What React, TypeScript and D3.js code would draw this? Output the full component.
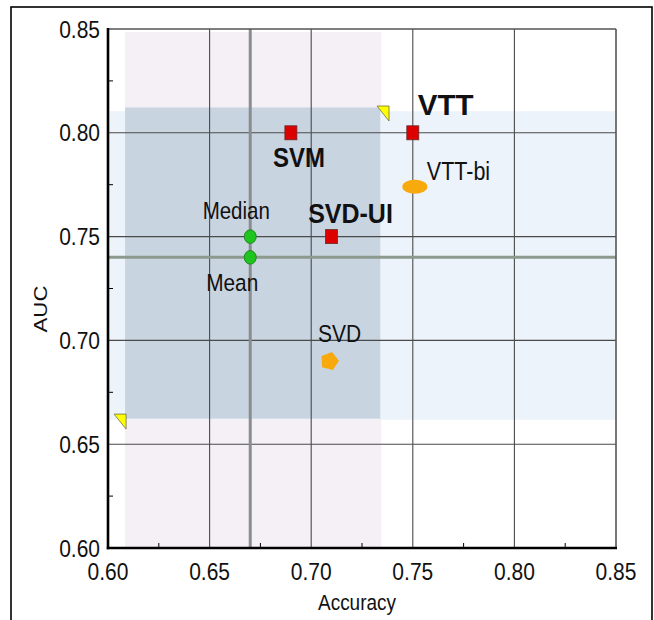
import React from "react";
import * as d3 from "d3";

// ---- data ----
const methods = ["SVM", "VTT", "SVD-UI", "Median", "Mean", "VTT-bi", "SVD"];
const accuracy = [0.69, 0.75, 0.71, 0.67, 0.67, 0.751, 0.709];
const auc = [0.8, 0.8, 0.75, 0.75, 0.74, 0.774, 0.69];
const markerKind = ["square", "square", "square", "circle", "circle", "ellipse", "pentagon"];

const xTicks = [0.6, 0.65, 0.7, 0.75, 0.8, 0.85];
const yTicks = [0.6, 0.65, 0.7, 0.75, 0.8, 0.85];
const xMinor = [0.625, 0.675, 0.725, 0.775, 0.825];
const yMinor = [0.625, 0.675, 0.725, 0.775, 0.825];

const refAccuracy = 0.67;
const refAUC = 0.74;

// shaded bands (accuracy range, auc range)
const accBand = [0.6084, 0.7345];
const accBandAuc = [0.6, 0.8485];
const aucBand = [0.6618, 0.8104];
const aucBandAcc = [0.6, 0.85];
const overlapAcc = [0.6084, 0.734];
const overlapAuc = [0.6623, 0.8122];

const triAcc = [0.6089, 0.7383];
const triAuc = [0.6645, 0.8129];

// ---- style / layout ----
const W = 654;
const H = 620;
const SY = 1.17;
const FONT = "'Liberation Sans', Arial, sans-serif";

const labelStyle: Record<string, { dx: number; dy: number; anchor: string; size: number; bold: boolean; sy: number }> = {
  SVM: { dx: 8, dy: 34, anchor: "middle", size: 24, bold: true, sy: 1.17 },
  VTT: { dx: 5, dy: -18, anchor: "start", size: 29.5, bold: true, sy: 1.0 },
  "SVD-UI": { dx: 19, dy: -14, anchor: "middle", size: 25, bold: true, sy: 1.13 },
  Median: { dx: -14, dy: -18, anchor: "middle", size: 20.5, bold: false, sy: 1.17 },
  Mean: { dx: -18, dy: 34, anchor: "middle", size: 20.8, bold: false, sy: 1.17 },
  "VTT-bi": { dx: 12, dy: -7, anchor: "start", size: 21.5, bold: false, sy: 1.2 },
  SVD: { dx: 10, dy: -19, anchor: "middle", size: 21, bold: false, sy: 1.17 },
};

export default function App() {
  const x = d3.scaleLinear().domain([0.6, 0.85]).range([108, 616]);
  const y = d3.scaleLinear().domain([0.6, 0.85]).range([548, 29]);

  const pentagon = (cx: number, cy: number, r: number) => {
    const pts = d3.range(5).map((i) => {
      const a = (-90 + 15 + i * 72) * (Math.PI / 180);
      return [cx + r * Math.cos(a), cy + r * Math.sin(a)].join(",");
    });
    return pts.join(" ");
  };

  const marker = (i: number) => {
    const cx = x(accuracy[i]);
    const cy = y(auc[i]);
    const k = markerKind[i];
    if (k === "square")
      return <rect key={"m" + i} x={cx - 6} y={cy - 7} width={12} height={14} fill="#dd0000" stroke="#6a2a2a" strokeWidth={0.8} />;
    if (k === "circle")
      return <ellipse key={"m" + i} cx={cx} cy={cy} rx={6} ry={6.8} fill="#1fc41f" stroke="#157a15" strokeWidth={0.8} />;
    if (k === "ellipse")
      return <ellipse key={"m" + i} cx={cx} cy={cy} rx={12.5} ry={7} fill="#f7a90d" />;
    return <polygon key={"m" + i} points={pentagon(cx, cy, 9.5)} fill="#f7a90d" />;
  };

  const label = (i: number) => {
    const s = labelStyle[methods[i]];
    const tx = x(accuracy[i]) + s.dx;
    const ty = y(auc[i]) + s.dy;
    return (
      <text
        key={"l" + i}
        transform={`translate(${tx},${ty}) scale(1,${s.sy})`}
        textAnchor={s.anchor}
        fontSize={s.size}
        fontWeight={s.bold ? "bold" : "normal"}
        fill="#111"
      >
        {methods[i]}
      </text>
    );
  };

  const tri = (i: number) => {
    const px = x(triAcc[i]);
    const py = y(triAuc[i]);
    return (
      <polygon
        key={"t" + i}
        points={`${px - 12},${py} ${px},${py} ${px},${py + 15}`}
        fill="#ffff00"
        stroke="#6f6f40"
        strokeWidth={0.8}
      />
    );
  };

  return (
    <div style={{ position: "absolute", left: 0, top: 0, width: W, height: H, background: "#fff" }}>
      <svg width={W} height={H} style={{ display: "block", fontFamily: FONT }}>
        <rect x={0} y={0} width={W} height={H} fill="#fff" />
        {/* frame */}
        <rect x={11} y={7} width={641} height={630} fill="none" stroke="#000" strokeWidth={1.6} />

        {/* shaded bands */}
        <rect x={x(accBand[0])} y={y(accBandAuc[1])} width={x(accBand[1]) - x(accBand[0])} height={y(accBandAuc[0]) - y(accBandAuc[1])} fill="#f4f0f6" />
        <rect x={x(aucBandAcc[0])} y={y(aucBand[1])} width={x(aucBandAcc[1]) - x(aucBandAcc[0])} height={y(aucBand[0]) - y(aucBand[1])} fill="#ecf3fa" />
        <rect x={x(overlapAcc[0])} y={y(overlapAuc[1])} width={x(overlapAcc[1]) - x(overlapAcc[0])} height={y(overlapAuc[0]) - y(overlapAuc[1])} fill="#c9d4e1" />

        {/* grid */}
        {xTicks.slice(1, -1).map((v) => (
          <line key={"gx" + v} x1={x(v)} x2={x(v)} y1={y(0.85)} y2={y(0.6)} stroke="#4a4a4a" strokeWidth={1.1} />
        ))}
        {yTicks.slice(1, -1).map((v) => (
          <line key={"gy" + v} x1={x(0.6)} x2={x(0.85)} y1={y(v)} y2={y(v)} stroke="#4a4a4a" strokeWidth={1.1} />
        ))}

        {/* reference lines */}
        <line x1={x(refAccuracy)} x2={x(refAccuracy)} y1={y(0.85)} y2={y(0.6)} stroke="#8a8d8f" strokeWidth={3} />
        <line x1={x(0.6)} x2={x(0.85)} y1={y(refAUC)} y2={y(refAUC)} stroke="#8c998d" strokeWidth={3} />

        {/* top/right frame of plot */}
        <line x1={x(0.6)} x2={x(0.85)} y1={y(0.85)} y2={y(0.85)} stroke="#555" strokeWidth={1.6} />
        <line x1={x(0.85)} x2={x(0.85)} y1={y(0.85)} y2={y(0.6)} stroke="#555" strokeWidth={1.6} />

        {/* axes */}
        <line x1={x(0.6)} x2={x(0.6)} y1={y(0.85) - 1} y2={y(0.6) + 1.2} stroke="#000" strokeWidth={2.6} />
        <line x1={x(0.6) - 1.2} x2={x(0.85) + 1} y1={y(0.6)} y2={y(0.6)} stroke="#000" strokeWidth={2.6} />
        {xMinor.map((v) => (
          <line key={"mx" + v} x1={x(v)} x2={x(v)} y1={y(0.6)} y2={y(0.6) - 5} stroke="#000" strokeWidth={1} />
        ))}
        {yMinor.map((v) => (
          <line key={"my" + v} x1={x(0.6)} x2={x(0.6) + 5} y1={y(v)} y2={y(v)} stroke="#000" strokeWidth={1} />
        ))}

        {/* tick labels */}
        {yTicks.map((v) => (
          <text key={"ty" + v} transform={`translate(100,${y(v) + 8.5}) scale(1,${SY})`} textAnchor="end" fontSize={21} fill="#111">
            {d3.format(".2f")(v)}
          </text>
        ))}
        {xTicks.map((v) => (
          <text key={"tx" + v} transform={`translate(${x(v)},${579.5}) scale(1,${SY})`} textAnchor="middle" fontSize={21} fill="#111">
            {d3.format(".2f")(v)}
          </text>
        ))}

        {/* axis titles */}
        <text transform={`translate(357,610) scale(1,${SY})`} textAnchor="middle" fontSize={19} fill="#111">
          Accuracy
        </text>
        <text transform={`translate(47,309) rotate(-90) scale(${SY},1)`} textAnchor="middle" fontSize={19} fill="#111">
          AUC
        </text>

        {/* triangles */}
        {triAcc.map((_, i) => tri(i))}

        {/* markers and labels */}
        {methods.map((_, i) => marker(i))}
        {methods.map((_, i) => label(i))}
      </svg>
    </div>
  );
}
